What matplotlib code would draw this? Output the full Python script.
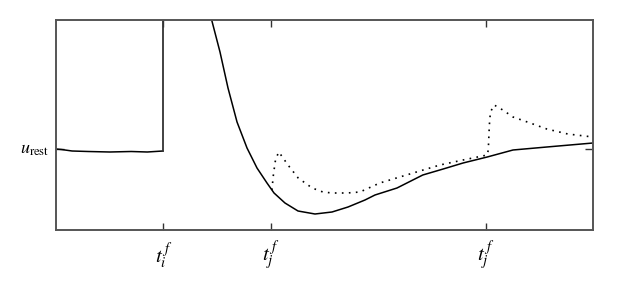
import matplotlib.pyplot as plt

plt.rcParams['mathtext.fontset'] = 'stix'

# membrane potential of neuron i (solid), before and after its own spike at t_i^f
rest_t = [0, 1, 3, 6, 10, 14, 17, 19.9]
rest_u = [0.0, -0.05, -0.2, -0.25, -0.3, -0.25, -0.3, -0.2]

spike_t = [19.9, 19.9]
spike_u = [-0.2, 15.0]

after_t = [28.0, 28.99, 30.54, 32.03, 33.71, 35.57, 37.43, 39.29, 40.6, 42.64, 45.07,
           48.23, 51.4, 54.38, 57.54, 59.4, 63.5, 68.3, 72.1, 75.8, 80.3, 85.1, 91.4,
           95.7, 100.0]
after_u = [14.9, 12.9, 9.7, 6.1, 2.7, 0.1, -1.9, -3.4, -4.4, -5.4, -6.2,
           -6.5, -6.3, -5.8, -5.1, -4.6, -3.9, -2.6, -2.0, -1.4, -0.8, -0.1, 0.2,
           0.4, 0.6]

# with input spikes from j (dotted)
input_t = [40.2, 40.5, 40.9, 41.5, 43.2, 45.1, 47.7, 49.7, 51.4, 54.2, 56.6, 60.3, 66.5,
           71.5, 75.8, 80.3, 80.5, 80.7, 80.9, 81.6, 83.2, 85.1, 88.3, 91.4, 95.3, 100.0]
input_u = [-4.1, -2.5, -1.0, -0.3, -1.6, -2.9, -3.9, -4.3, -4.4, -4.4, -4.3, -3.4, -2.4,
           -1.6, -1.1, -0.6, -0.1, 2.4, 3.7, 4.4, 3.9, 3.2, 2.6, 2.0, 1.5, 1.2]

spike_ticks = [20, 40, 80]
spike_labels = [r'$t_i^{\,f}$', r'$t_j^{\,f}$', r'$t_j^{\,f}$']

fig = plt.figure(figsize=(6.18, 2.85), dpi=100)
ax = fig.add_axes([56 / 618, 55 / 285, 537 / 618, 210 / 285])

ax.plot(rest_t, rest_u, color='black', lw=1.1)
ax.plot(spike_t, spike_u, color='#333333', lw=1.3)
ax.plot(after_t, after_u, color='black', lw=1.1)
ax.plot(input_t, input_u, color='black', lw=1.2, linestyle=(0, (1, 3.2)))

ax.set_xlim(0, 100)
ax.set_ylim(-8.1, 12.9)

for s in ax.spines.values():
    s.set_color('#555555')
    s.set_linewidth(1.4)

ax.set_xticks(spike_ticks)
ax.set_xticklabels([])
ax.set_yticks([0])
ax.set_yticklabels([])
ax.tick_params(axis='x', direction='in', top=True, length=5, width=1, color='#333333')
ax.tick_params(axis='y', direction='in', right=True, length=6, width=1, color='#333333')

for t, lab in zip(spike_ticks, spike_labels):
    ax.text(t, -0.12, lab, transform=ax.get_xaxis_transform(), ha='center', va='center',
            fontsize=15)

ax.text(-0.012, 0.05, r'$u_{\mathrm{rest}}$', transform=ax.get_yaxis_transform(),
        ha='right', va='center', fontsize=13)

fig.savefig('out.png', dpi=100)
